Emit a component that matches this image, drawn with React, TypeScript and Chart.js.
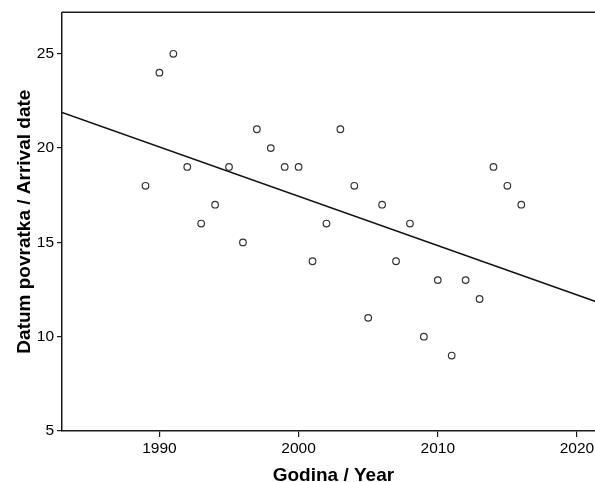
import React, { useEffect, useRef } from "react";
import { Chart, registerables } from "chart.js";

Chart.register(...registerables);

// Observed data: year and arrival date
const years = [1989, 1990, 1991, 1992, 1993, 1994, 1995, 1996, 1997, 1998, 1999, 2000, 2001, 2002, 2003, 2004, 2005, 2006, 2007, 2008, 2009, 2010, 2011, 2012, 2013, 2014, 2015, 2016];
const arrivalDates = [18, 24, 25, 19, 16, 17, 19, 15, 21, 20, 19, 19, 14, 16, 21, 18, 11, 17, 14, 16, 10, 13, 9, 13, 12, 19, 18, 17];

// Fitted regression line endpoints
const fitYears = [1983, 2022];
const fitValues = [21.89, 11.69];

const xTickValues = [1990, 2000, 2010, 2020];
const yTickValues = [5, 10, 15, 20, 25];

const xTitle = "Godina / Year";
const yTitle = "Datum povratka / Arrival date";

const FONT = "'Liberation Sans', Arial, Helvetica, sans-serif";

export default function App() {
  const ref = useRef<HTMLCanvasElement | null>(null);

  useEffect(() => {
    const canvas = ref.current;
    if (!canvas) return;

    const topBorder = {
      id: "topBorder",
      afterDraw(chart: any) {
        const { ctx, chartArea } = chart;
        ctx.save();
        ctx.strokeStyle = "#1a1a1a";
        ctx.lineWidth = 1.5;
        ctx.beginPath();
        ctx.moveTo(chartArea.left, chartArea.top);
        ctx.lineTo(chartArea.right, chartArea.top);
        ctx.stroke();
        ctx.restore();
      },
    };

    const chart = new Chart(canvas, {
      type: "scatter",
      data: {
        datasets: [
          {
            type: "scatter",
            data: years.map((y, i) => ({ x: y, y: arrivalDates[i] })),
            pointRadius: 3.3,
            pointBorderWidth: 1.2,
            pointBorderColor: "#333333",
            pointBackgroundColor: "rgba(255,255,255,0)",
            pointStyle: "circle",
          } as any,
          {
            type: "line",
            data: fitYears.map((y, i) => ({ x: y, y: fitValues[i] })),
            borderColor: "#111111",
            borderWidth: 1.6,
            pointRadius: 0,
            fill: false,
            tension: 0,
          } as any,
        ],
      },
      options: {
        responsive: false,
        animation: false,
        devicePixelRatio: 1,
        layout: { padding: { top: 12, right: 4, left: 0, bottom: 0 } },
        plugins: {
          legend: { display: false },
          tooltip: { enabled: false },
        },
        scales: {
          x: {
            type: "linear",
            min: 1983,
            max: 2022,
            afterBuildTicks: (scale: any) => {
              scale.ticks = xTickValues.map((v) => ({ value: v }));
            },
            afterFit: (scale: any) => {
              scale.height = 59;
            },
            ticks: {
              color: "#000",
              font: { family: FONT, size: 15.5 },
              padding: 2,
              maxRotation: 0,
              autoSkip: false,
              callback: (v: any) => String(v),
            },
            grid: {
              drawOnChartArea: false,
              drawTicks: true,
              tickLength: 6,
              color: "#1a1a1a",
              lineWidth: 1.2,
            },
            border: { display: true, color: "#1a1a1a", width: 1.5 },
            title: {
              display: true,
              text: xTitle,
              color: "#000",
              font: { family: FONT, size: 19, weight: "bold" },
              padding: { top: 0, bottom: 3.2 },
            },
          },
          y: {
            type: "linear",
            min: 5,
            max: 27.2,
            afterBuildTicks: (scale: any) => {
              scale.ticks = yTickValues.map((v) => ({ value: v }));
            },
            afterFit: (scale: any) => {
              scale.width = 62;
            },
            ticks: {
              color: "#000",
              font: { family: FONT, size: 15.5 },
              padding: 3,
              autoSkip: false,
              callback: (v: any) => String(v),
            },
            grid: {
              drawOnChartArea: false,
              drawTicks: true,
              tickLength: 5,
              color: "#1a1a1a",
              lineWidth: 1.2,
            },
            border: { display: true, color: "#1a1a1a", width: 1.5 },
            title: {
              display: true,
              text: yTitle,
              color: "#000",
              font: { family: FONT, size: 19, weight: "bold" },
              padding: { top: 13, bottom: 0 },
            },
          },
        },
      },
      plugins: [topBorder],
    } as any);

    return () => chart.destroy();
  }, []);

  return (
    <div
      style={{
        position: "fixed",
        left: 0,
        top: 0,
        width: 595,
        height: 482,
        overflow: "hidden",
        background: "#fff",
      }}
    >
      <canvas ref={ref} width={610} height={490} style={{ display: "block" }} />
    </div>
  );
}
